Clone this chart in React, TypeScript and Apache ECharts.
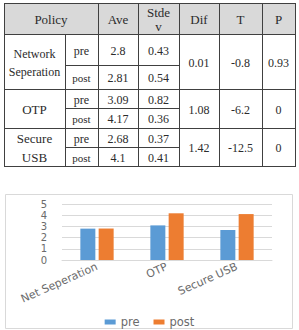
import React, { useEffect, useRef } from "react";
import * as echarts from "echarts";

// ---- data ----
const policyNames = ["Network\nSeperation", "OTP", "Secure\nUSB"];
const phaseNames = ["pre", "post"];
const headerLabels = ["Policy", "Ave", "Stde\nv", "Dif", "T", "P"];
const avePre = [2.8, 3.09, 2.68];
const avePost = [2.81, 4.17, 4.1];
const stdevPre = ["0.43", "0.82", "0.37"];
const stdevPost = ["0.54", "0.36", "0.41"];
const difValues = ["0.01", "1.08", "1.42"];
const tValues = ["-0.8", "-6.2", "-12.5"];
const pValues = ["0.93", "0", "0"];

const chartCategories = ["Net Seperation", "OTP", "Secure USB"];
const seriesNames = ["pre", "post"];

// ---- layout ----
const colX = [4, 65, 98, 138, 179, 219, 262, 295];
const headTop = 3;
const rowY = [34, 65, 89, 108, 128, 147, 166];
const lineColor = "#404040";
const textColor = "#2b2b2b";

function buildTable(): any[] {
  const els: any[] = [];
  const left = colX[0];
  const right = colX[colX.length - 1];
  const bottom = rowY[rowY.length - 1];
  els.push({
    type: "rect",
    shape: { x: left, y: headTop, width: right - left, height: rowY[0] - headTop },
    style: { fill: "#d9d9d9" },
  });
  const hline = (y: number, x1: number, x2: number) =>
    els.push({
      type: "line",
      shape: { x1, y1: y + 0.5, x2, y2: y + 0.5 },
      style: { stroke: lineColor, lineWidth: 1 },
    });
  const vline = (x: number, y1: number, y2: number) =>
    els.push({
      type: "line",
      shape: { x1: x + 0.5, y1, x2: x + 0.5, y2 },
      style: { stroke: lineColor, lineWidth: 1 },
    });
  hline(headTop, left, right + 1);
  hline(rowY[0], left, right + 1);
  for (let g = 0; g < policyNames.length; g++) {
    hline(rowY[2 * g + 1], colX[1], colX[4] + 1);
    hline(rowY[2 * g + 2], left, right + 1);
  }
  vline(left, headTop, bottom + 1);
  vline(right, headTop, bottom + 1);
  vline(colX[1], rowY[0], bottom + 1);
  for (let i = 2; i < colX.length - 1; i++) vline(colX[i], headTop, bottom + 1);

  const txt = (text: string, cx: number, cy: number, size = 12, lh = 15) =>
    els.push({
      type: "text",
      x: cx,
      y: cy,
      style: {
        text,
        align: "center",
        verticalAlign: "middle",
        font: size + "px 'Liberation Serif'",
        fill: textColor,
        lineHeight: lh,
      },
    });
  const cxOf = (a: number, b: number) => (colX[a] + colX[b]) / 2;
  const headMid = (headTop + rowY[0]) / 2 + 1;
  txt(headerLabels[0], cxOf(0, 2), headMid, 13);
  for (let i = 1; i < headerLabels.length; i++) {
    txt(headerLabels[i], cxOf(i + 1, i + 2), headMid, 13, 14);
  }
  for (let g = 0; g < policyNames.length; g++) {
    const top = rowY[2 * g];
    const mid = rowY[2 * g + 1];
    const bot = rowY[2 * g + 2];
    const preY = (top + mid) / 2 + 1;
    const postY = (mid + bot) / 2 + 1;
    const allY = (top + bot) / 2 + 1;
    txt(policyNames[g], cxOf(0, 1), allY, g === 0 ? 12 : 13, g === 0 ? 18 : 19);
    txt(phaseNames[0], cxOf(1, 2), preY, 12);
    txt(phaseNames[1], cxOf(1, 2), postY, 11);
    txt(String(avePre[g]), cxOf(2, 3), preY, 12);
    txt(String(avePost[g]), cxOf(2, 3), postY, 12);
    txt(stdevPre[g], cxOf(3, 4), preY, 12);
    txt(stdevPost[g], cxOf(3, 4), postY, 12);
    txt(difValues[g], cxOf(4, 5), allY, 12);
    txt(tValues[g], cxOf(5, 6), allY, 12);
    txt(pValues[g], cxOf(6, 7), allY, 12);
  }
  return els;
}

export default function App() {
  const ref = useRef<HTMLDivElement>(null);
  useEffect(() => {
    if (!ref.current) return;
    const chart = echarts.init(ref.current, null, { renderer: "svg" });
    const sans = "DejaVu Sans";
    chart.setOption({
      animation: false,
      backgroundColor: "#fff",
      graphic: [
        ...buildTable(),
        {
          type: "rect",
          shape: { x: 5.5, y: 194.5, width: 287, height: 134 },
          style: { fill: "none", stroke: "#d9d9d9", lineWidth: 1 },
          z: -1,
        },
      ],
      grid: { left: 62, right: 27, top: 204, bottom: 70, containLabel: false },
      legend: {
        data: seriesNames,
        left: "center",
        top: 311,
        icon: "rect",
        itemWidth: 11,
        itemHeight: 5,
        itemGap: 14,
        textStyle: { color: "#6b6b6b", fontSize: 11.5, fontFamily: sans },
      },
      xAxis: {
        type: "category",
        data: chartCategories,
        axisLine: { lineStyle: { color: "#d9d9d9" } },
        axisTick: { show: false },
        axisLabel: {
          rotate: 24,
          margin: 6,
          color: "#6b6b6b",
          fontSize: 11,
          fontFamily: sans,
        },
      },
      yAxis: {
        type: "value",
        min: 0,
        max: 5,
        interval: 1,
        axisLine: { show: false },
        axisTick: { show: false },
        splitLine: { lineStyle: { color: "#d9d9d9" } },
        axisLabel: { margin: 15, color: "#6b6b6b", fontSize: 10, fontFamily: sans },
      },
      series: [
        {
          name: seriesNames[0],
          type: "bar",
          data: avePre,
          barWidth: 15,
          barGap: "22%",
          itemStyle: { color: "#5b9bd5" },
        },
        {
          name: seriesNames[1],
          type: "bar",
          data: avePost,
          barWidth: 15,
          itemStyle: { color: "#ed7d31" },
        },
      ],
    });
    return () => chart.dispose();
  }, []);
  return (
    <div
      ref={ref}
      style={{ position: "absolute", left: 0, top: 0, width: 299, height: 330 }}
    />
  );
}
